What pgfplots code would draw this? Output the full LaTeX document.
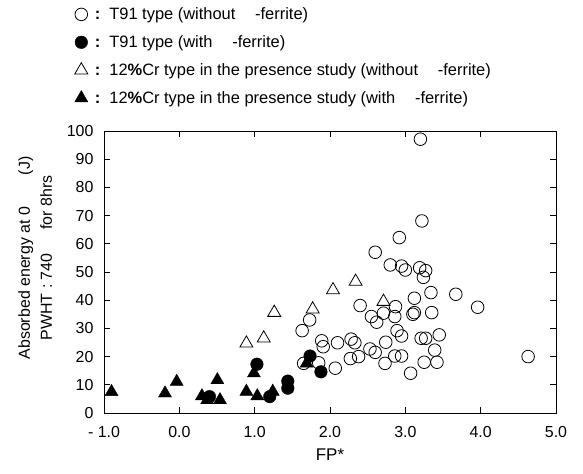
\documentclass[border=0pt]{standalone}
\usepackage{pgfplots}
\pgfplotsset{compat=1.18}
\usepackage{fontspec}
\setmainfont{Liberation Sans}
\begin{document}
\begin{tikzpicture}
\begin{axis}[
  at={(0,0)}, anchor=south west,
  scale only axis, width=452bp, height=282bp,
  xmin=-1, xmax=5, ymin=0, ymax=100,
  xtick={-1,0,1,2,3,4,5},
  xticklabels={- 1.0,0.0,1.0,2.0,3.0,4.0,5.0},
  ytick={0,10,...,100},
  tick align=inside,
  major tick length=6bp,
  tick style={black, line width=0.8pt},
  axis line style={line width=0.8pt},
  ticklabel style={font=\fontsize{16}{19}\selectfont},
  xticklabel style={yshift=-10bp},
  yticklabel style={xshift=-7bp},
  /pgf/number format/assume math mode=true,
  xlabel={FP*},
  xlabel style={font=\fontsize{17}{20}\selectfont, yshift=-4bp},
  ylabel={Absorbed energy at 0\hspace{2em}(J)\\PWHT : 740\hspace{1.5em}for 8hrs},
  ylabel style={font=\fontsize{16}{22}\selectfont, align=center, at={(ticklabel cs:0.55,8bp)}},
  legend style={draw=none, fill=none, at={(rel axis cs:-0.065,1.445)}, anchor=north west,
    font=\fontsize{16.5}{19}\selectfont, row sep=10.5bp, inner sep=0pt},
  legend cell align=left,
  clip=false,
]
% open circles: T91 without
\addplot[only marks, mark=o, mark size=6.3bp, mark options={black, fill=white, line width=0.8pt}] coordinates {
(3.20,97.1) (3.22,68.1) (2.92,62.2) (2.60,57.0) (2.80,52.5) (2.95,52.1) (3.00,50.7)
(3.19,51.5) (3.27,50.5) (3.24,48.1) (3.34,42.7) (3.67,42.1) (3.96,37.5) (3.12,40.7)
(2.40,38.1) (2.87,37.7) (2.86,34.2) (2.55,34.2) (2.62,32.2) (2.71,35.4) (3.12,35.6)
(3.10,35.0) (3.35,35.6) (1.73,33.0) (1.63,29.2) (2.89,29.2) (2.95,27.3) (3.45,27.7)
(3.21,26.5) (3.27,26.5) (2.74,25.1) (1.89,25.6) (1.91,23.5) (2.10,24.9) (2.28,26.2)
(2.33,24.9) (2.53,22.7) (2.60,21.5) (3.39,22.3) (2.38,20.0) (2.27,19.3) (2.86,20.2)
(2.95,20.2) (2.73,17.6) (3.25,18.0) (3.42,18.0) (3.07,14.1) (2.07,15.9) (4.63,20.0)
(1.65,17.6) (1.85,17.8)
};
\addlegendentry{\hspace{5bp}\textbf{:}\hspace{3bp} T91 type (without\hspace{1.2em}-ferrite)}
% filled circles: T91 with
\addplot[only marks, mark=*, mark size=6.3bp, mark options={black, fill=black}] coordinates {
(1.03,17.3) (1.20,5.8) (1.44,11.3) (1.44,8.8) (0.40,5.8) (1.735,20.2) (1.88,14.6)
};
\addlegendentry{\hspace{5bp}\textbf{:}\hspace{3bp} T91 type (with\hspace{1.2em}-ferrite)}
% open triangles
\addplot[only marks, mark=triangle, mark size=7.5bp, mark options={black, fill=white, line width=0.8pt}] coordinates {
(1.77,36.8) (2.04,43.6) (2.34,46.6) (2.71,39.5) (0.89,24.7) (1.12,26.5) (1.26,35.6)
};
\addlegendentry{\hspace{5bp}\textbf{:}\hspace{3bp} 12\textbf{\%}Cr type in the presence study (without\hspace{1.2em}-ferrite)}
% filled triangles
\addplot[only marks, mark=triangle*, mark size=7.5bp, mark options={black, fill=black}] coordinates {
(-0.90,7.5) (-0.19,7.0) (-0.035,11.1) (0.30,6.0) (0.37,4.6) (0.505,11.7) (0.54,4.6)
(0.89,7.6) (0.99,14.1) (1.035,6.0) (1.24,7.6) (1.69,17.6)
};
\addlegendentry{\hspace{5bp}\textbf{:}\hspace{3bp} 12\textbf{\%}Cr type in the presence study (with\hspace{1.2em}-ferrite)}
\end{axis}
\path[use as bounding box] (-104bp,-61bp) rectangle (479bp,413bp);
\end{tikzpicture}
\end{document}
